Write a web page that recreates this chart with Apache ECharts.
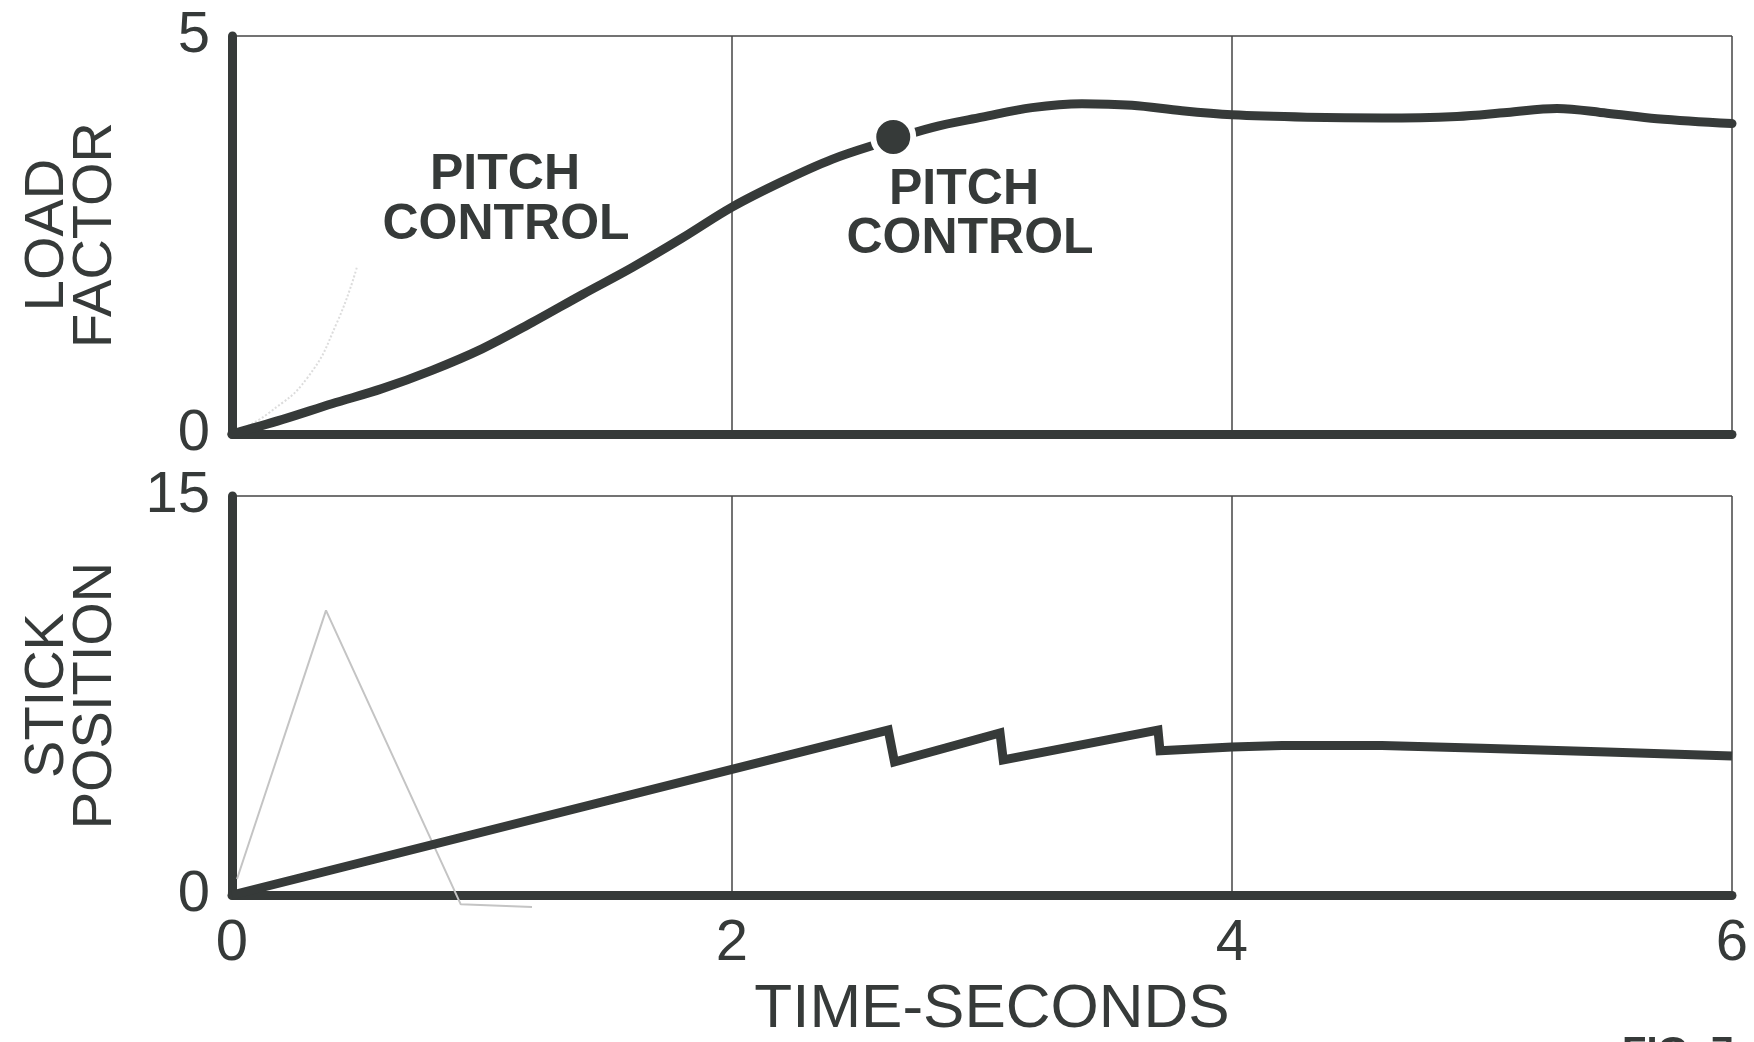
<!DOCTYPE html>
<html><head><meta charset="utf-8">
<script src="https://cdn.jsdelivr.net/npm/echarts@6/dist/echarts.min.js"></script>
<style>html,body{margin:0;padding:0;background:#fff}#c{width:1754px;height:1042px}</style>
</head><body><div id="c"></div>
<script>
// ---- data ----
const lfTime     = [0,0.2,0.4,0.6,0.8,1.0,1.2,1.4,1.6,1.8,2.0,2.2,2.4,2.6,2.8,3.0,3.2,3.4,3.6,3.8,4.0,4.3,4.6,4.9,5.1,5.3,5.5,5.7,6.0];
const loadFactor = [0,0.18,0.38,0.57,0.8,1.07,1.4,1.75,2.09,2.46,2.85,3.17,3.45,3.66,3.85,3.98,4.1,4.15,4.13,4.06,4.01,3.98,3.97,3.99,4.04,4.09,4.03,3.96,3.9];
const dotTime = [2.645];
const dotLF   = [3.73];
const spTime   = [0,2.625,2.65,3.072,3.085,3.704,3.712,4.0,4.2,4.6,5.0,5.5,6.0];
const stickPos = [0,6.2,5.0,6.09,5.08,6.2,5.42,5.56,5.62,5.62,5.52,5.38,5.23];
// faint pencil traces
const penLFTime = [0.05,0.15,0.3,0.42,0.5];
const penLF     = [0.08,0.27,0.7,1.4,2.1];
const penSPTime = [0.02,0.376,0.915,1.2];
const penSP     = [0.6,10.7,-0.35,-0.45];
const xTicks = [0,2,4,6];
const lfTicks = [0,5];
const spTicks = [0,15];

const zip = (a,b)=>a.map((v,i)=>[v,b[i]]);
const INK = '#363a39';
const FONT = '"Liberation Sans", Arial, sans-serif';

const chart = echarts.init(document.getElementById('c'), null, {renderer:'canvas'});
const xCommon = (gi, showLabels) => ({
  type:'value', gridIndex:gi, min:xTicks[0], max:xTicks[xTicks.length-1], interval:2,
  axisLine:{show:true, onZero:false, lineStyle:{color:INK, width:9}},
  axisTick:{show:false},
  axisLabel:{show:showLabels, color:INK, fontFamily:FONT, fontSize:58, margin:20},
  splitLine:{show:true, lineStyle:{color:'#444', width:1.5}}
});
const yCommon = (gi, ticks, name) => ({
  type:'value', gridIndex:gi, min:ticks[0], max:ticks[1], interval:ticks[1]-ticks[0],
  axisLine:{show:true, onZero:false, lineStyle:{color:INK, width:9}},
  axisTick:{show:false},
  axisLabel:{color:INK, fontFamily:FONT, fontSize:58, margin:22},
  splitLine:{show:true, lineStyle:{color:'#444', width:1.5}},
  name:name, nameLocation:'middle', nameRotate:90, nameGap:112,
  nameTextStyle:{color:INK, fontFamily:FONT, fontSize:56, lineHeight:48, align:'center'}
});

chart.setOption({
  backgroundColor:'#ffffff',
  animation:false,
  grid:[
    {left:232, right:22, top:36, height:398},
    {left:232, right:22, top:496, height:399}
  ],
  xAxis:[xCommon(0,false), xCommon(1,true)],
  yAxis:[yCommon(0, lfTicks, 'LOAD\nFACTOR'), yCommon(1, spTicks, 'STICK\nPOSITION')],
  series:[
    {type:'line', xAxisIndex:0, yAxisIndex:0, data:zip(penLFTime,penLF), smooth:true, symbol:'none', clip:false,
     lineStyle:{color:'#dcdcdc', width:2, type:'dotted'}, z:1},
    {type:'line', xAxisIndex:1, yAxisIndex:1, data:zip(penSPTime,penSP), symbol:'none', clip:false,
     lineStyle:{color:'#c4c4c4', width:2}, z:1},
    {type:'line', xAxisIndex:0, yAxisIndex:0, data:zip(lfTime,loadFactor), smooth:0.35, symbol:'none',
     lineStyle:{color:INK, width:9, cap:'round', join:'round'}, z:3},
    {type:'scatter', xAxisIndex:0, yAxisIndex:0, data:zip(dotTime,dotLF), symbol:'circle', symbolSize:40,
     itemStyle:{color:INK, opacity:1, borderColor:'#ffffff', borderWidth:6}, z:4},
    {type:'line', xAxisIndex:1, yAxisIndex:1, data:zip(spTime,stickPos), symbol:'none',
     lineStyle:{color:INK, width:9, join:'miter', cap:'butt'}, z:3}
  ],
  graphic:[
    {type:'text', style:{text:'TIME-SECONDS', x:992, y:1010, fill:INK, font:'62px '+FONT, textAlign:'center', textVerticalAlign:'middle'}},
    {type:'text', style:{text:'PITCH', x:505, y:175, fill:INK, font:'bold 50px '+FONT, textAlign:'center', textVerticalAlign:'middle'}},
    {type:'text', style:{text:'CONTROL', x:506, y:225, fill:INK, font:'bold 50px '+FONT, textAlign:'center', textVerticalAlign:'middle'}},
    {type:'text', style:{text:'PITCH', x:964, y:190, fill:INK, font:'bold 50px '+FONT, textAlign:'center', textVerticalAlign:'middle'}},
    {type:'text', style:{text:'CONTROL', x:970, y:239, fill:INK, font:'bold 50px '+FONT, textAlign:'center', textVerticalAlign:'middle'}},
    {type:'text', style:{text:'FIG. 7', x:1622, y:1034, fill:INK, font:'bold 40px '+FONT, textAlign:'left', textVerticalAlign:'top'}}
  ]
});
</script></body></html>
